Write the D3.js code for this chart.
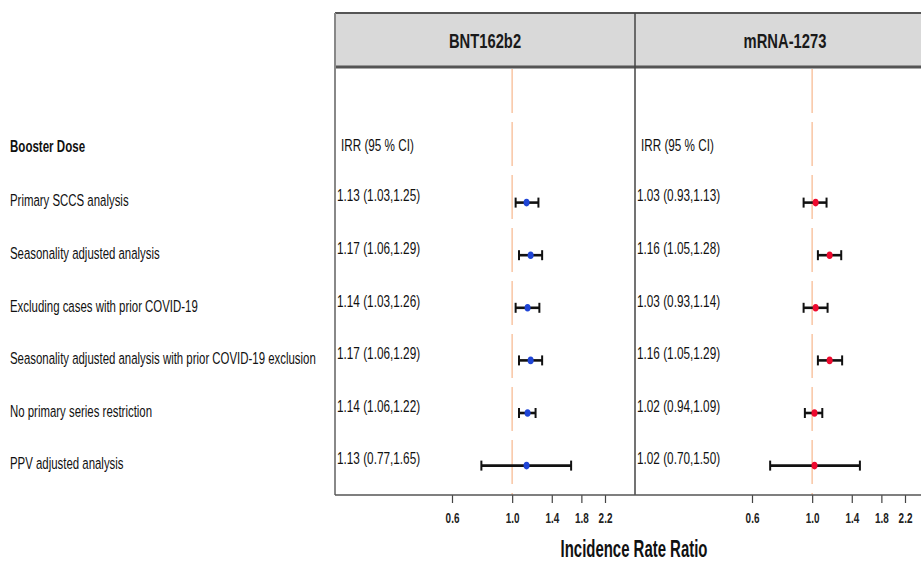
<!DOCTYPE html>
<html>
<head>
<meta charset="utf-8">
<script src="https://cdn.jsdelivr.net/npm/d3@7"></script>
<style>
  html, body { margin: 0; padding: 0; background: #fff; }
  svg { display: block; }
  text { font-family: "Liberation Sans", Arial, sans-serif; }
</style>
</head>
<body>
<svg id="chart" width="921" height="562"></svg>
<script>
// Sensitivity analyses for the booster dose
const analyses = [
  "Primary SCCS analysis",
  "Seasonality adjusted analysis",
  "Excluding cases with prior COVID-19",
  "Seasonality adjusted analysis with prior COVID-19 exclusion",
  "No primary series restriction",
  "PPV adjusted analysis"
];
const vaccines = ["BNT162b2", "mRNA-1273"];

// Incidence rate ratios with 95% confidence limits
const bntIRR  = [1.13, 1.17, 1.14, 1.17, 1.14, 1.13];
const bntLow  = [1.03, 1.06, 1.03, 1.06, 1.06, 0.77];
const bntHigh = [1.25, 1.29, 1.26, 1.29, 1.22, 1.65];

const mrnaIRR  = [1.03, 1.16, 1.03, 1.16, 1.02, 1.02];
const mrnaLow  = [0.93, 1.05, 0.93, 1.05, 0.94, 0.70];
const mrnaHigh = [1.13, 1.28, 1.14, 1.29, 1.09, 1.50];

const axisTicks = [0.6, 1.0, 1.4, 1.8, 2.2];
const nullValue = 1.0;

const series = [
  { name: vaccines[0], est: bntIRR, lo: bntLow, hi: bntHigh, color: "#1f45d6" },
  { name: vaccines[1], est: mrnaIRR, lo: mrnaLow, hi: mrnaHigh, color: "#ee0a2e" }
];

const svg = d3.select("#chart");

// Narrow type: draw text horizontally condensed around its anchor point
function placeText(parent, px, py, sx) {
  return parent.append("text")
    .attr("transform", `translate(${px},${py}) scale(${sx},1)`)
    .attr("dominant-baseline", "central");
}

// Layout
const panelW = 300;
const panelX = d3.scaleBand().domain(vaccines).range([335, 335 + panelW * 2]).padding(0);
const headTop = 13, headBottom = 67, panelBottom = 495;

// Row positions: header row followed by the analyses
const rowKeys = ["__head__"].concat(analyses);
const y = d3.scalePoint().domain(rowKeys).range([146, 146 + 52.6 * analyses.length]);

// Log-scaled ratio axis inside each panel
const x = d3.scaleLog().domain([0.6, 2.2]).range([117, 270]);

const fmt = d3.format(".2f");

// Left-hand row labels
placeText(svg, 10, y("__head__"), 0.68)
  .attr("font-size", 17).attr("font-weight", "bold").attr("fill", "#111")
  .text("Booster Dose");

analyses.forEach(a => {
  placeText(svg, 10, y(a) + 2, 0.672)
    .attr("font-size", 17).attr("fill", "#111")
    .text(a);
});

// Panels
series.forEach(s => {
  const left = panelX(s.name);
  const g = svg.append("g").attr("transform", `translate(${left},0)`);

  // strip header
  g.append("rect")
    .attr("x", 0).attr("y", headTop).attr("width", panelW).attr("height", headBottom - headTop)
    .attr("fill", "#d9d9d9");
  g.append("line").attr("x1", 0).attr("x2", panelW).attr("y1", headTop).attr("y2", headTop)
    .attr("stroke", "#555").attr("stroke-width", 2);
  g.append("line").attr("x1", 0).attr("x2", panelW).attr("y1", headBottom).attr("y2", headBottom)
    .attr("stroke", "#555").attr("stroke-width", 3);
  placeText(g, panelW / 2, (headTop + headBottom) / 2 + 1, 0.72)
    .attr("text-anchor", "middle")
    .attr("font-size", 20.5).attr("font-weight", "bold").attr("fill", "#1a1a1a")
    .text(s.name);

  // reference line at no effect
  g.append("line")
    .attr("x1", x(nullValue)).attr("x2", x(nullValue))
    .attr("y1", headBottom + 2).attr("y2", panelBottom)
    .attr("stroke", "#f9c9aa").attr("stroke-width", 1.6)
    .attr("stroke-dasharray", "44,9");

  // IRR column
  placeText(g, 6, y("__head__") - 1, 0.71)
    .attr("font-size", 16.5).attr("fill", "#111")
    .text("IRR (95 % CI)");

  const rows = analyses.map((a, i) => ({ a, est: s.est[i], lo: s.lo[i], hi: s.hi[i] }));

  rows.forEach(d => {
    placeText(g, 2, y(d.a) - 3, 0.714)
      .attr("font-size", 16.5).attr("fill", "#111")
      .text(`${fmt(d.est)} (${fmt(d.lo)},${fmt(d.hi)})`);
  });

  // error bars
  const eb = g.selectAll("g.eb").data(rows).join("g").attr("class", "eb")
    .attr("transform", d => `translate(0,${y(d.a) + 4})`);
  eb.append("line")
    .attr("x1", d => x(d.lo)).attr("x2", d => x(d.hi))
    .attr("stroke", "#111").attr("stroke-width", 2.6);
  eb.append("line")
    .attr("x1", d => x(d.lo)).attr("x2", d => x(d.lo)).attr("y1", -5).attr("y2", 5)
    .attr("stroke", "#111").attr("stroke-width", 2);
  eb.append("line")
    .attr("x1", d => x(d.hi)).attr("x2", d => x(d.hi)).attr("y1", -5).attr("y2", 5)
    .attr("stroke", "#111").attr("stroke-width", 2);
  eb.append("ellipse")
    .attr("cx", d => x(d.est)).attr("cy", 0)
    .attr("rx", 3).attr("ry", 3.8)
    .attr("fill", s.color);

  // bottom axis
  const ax = g.append("g").attr("transform", `translate(0,${panelBottom})`)
    .call(d3.axisBottom(x).tickValues(axisTicks).tickFormat(d3.format(".1f")).tickSize(8).tickPadding(9));
  ax.select(".domain").remove();
  ax.selectAll(".tick line").attr("stroke", "#444").attr("stroke-width", 1.2);
  ax.selectAll(".tick text")
    .attr("font-size", 15.5).attr("font-weight", "bold").attr("fill", "#222")
    .attr("font-family", "\"Liberation Sans\", Arial, sans-serif")
    .attr("transform", "scale(0.64,1)");
});

// Panel frame: left border, divider and bottom border
const x0 = panelX(vaccines[0]);
const x1 = panelX(vaccines[1]);
svg.append("line").attr("x1", x0).attr("x2", x0).attr("y1", headTop).attr("y2", panelBottom)
  .attr("stroke", "#888").attr("stroke-width", 2);
svg.append("line").attr("x1", x1).attr("x2", x1).attr("y1", headTop).attr("y2", panelBottom)
  .attr("stroke", "#444").attr("stroke-width", 1.5);
svg.append("line").attr("x1", x0).attr("x2", x0 + panelW * 2).attr("y1", panelBottom).attr("y2", panelBottom)
  .attr("stroke", "#555").attr("stroke-width", 1.5);

// axis title
placeText(svg, 634, 549, 0.65)
  .attr("text-anchor", "middle")
  .attr("font-size", 23).attr("font-weight", "bold").attr("fill", "#111")
  .text("Incidence Rate Ratio");
</script>
</body>
</html>
